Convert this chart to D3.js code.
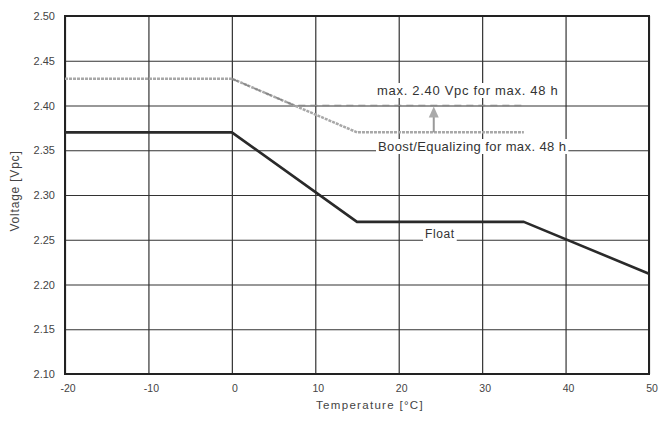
<!DOCTYPE html>
<html>
<head>
<meta charset="utf-8">
<script src="https://cdn.jsdelivr.net/npm/d3@7"></script>
<style>
  body { margin: 0; background: #fff; }
  svg { display: block; font-family: "Liberation Sans", Arial, sans-serif; }
</style>
</head>
<body>
<svg id="chart" width="669" height="421"></svg>
<script>
// DATA
// axis ticks
var tempTicks = [-20, -10, 0, 10, 20, 30, 40, 50];
var voltTicks = [2.10, 2.15, 2.20, 2.25, 2.30, 2.35, 2.40, 2.45, 2.50];

// Float charge curve
var floatTemps = [-20, 0, 15, 35, 50];
var floatVolts = [2.37, 2.37, 2.27, 2.27, 2.212];

// Boost / equalizing curve
var boostTemps = [-20, 0, 15, 35];
var boostVolts = [2.43, 2.43, 2.37, 2.37];

// max 2.40 Vpc limit
var maxTemps = [0, 7.5, 35];
var maxVolts = [2.43, 2.40, 2.40];

// arrow between boost and limit
var arrowTemp = 24.2;
var arrowVolts = [2.37, 2.40];

var svg = d3.select("#chart");

var x = d3.scaleLinear().domain([-20, 50]).range([65, 649]);
var y = d3.scaleLinear().domain([2.10, 2.50]).range([374, 16]);

var gridColor = "#333",
    textColor = "#444";

// grid lines
svg.append("g")
    .attr("transform", "translate(0,374)")
    .call(d3.axisBottom(x).tickValues(tempTicks).tickSize(-358).tickFormat(""))
    .call(function(g) { g.select(".domain").remove(); })
    .selectAll("line").attr("stroke", gridColor).attr("stroke-width", 1.2);

svg.append("g")
    .attr("transform", "translate(65,0)")
    .call(d3.axisLeft(y).tickValues(voltTicks).tickSize(-584).tickFormat(""))
    .call(function(g) { g.select(".domain").remove(); })
    .selectAll("line").attr("stroke", gridColor).attr("stroke-width", 1.2);

// frame
svg.append("rect")
    .attr("x", x(-20)).attr("y", y(2.50))
    .attr("width", x(50) - x(-20)).attr("height", y(2.10) - y(2.50))
    .attr("fill", "none").attr("stroke", "#222").attr("stroke-width", 2);

// tick labels
svg.append("g").selectAll("text")
    .data(voltTicks)
    .enter().append("text")
    .attr("x", 55)
    .attr("y", function(d) { return y(d) + 4; })
    .attr("text-anchor", "end")
    .style("font-size", "11px")
    .attr("fill", textColor)
    .text(function(d) { return d3.format(".2f")(d); });

svg.append("g").selectAll("text")
    .data(tempTicks)
    .enter().append("text")
    .attr("x", function(d) { return x(d) + 3; })
    .attr("y", 392)
    .attr("text-anchor", "middle")
    .style("font-size", "10.5px")
    .attr("fill", textColor)
    .text(function(d) { return d; });

// axis titles
svg.append("text")
    .attr("x", 370).attr("y", 409)
    .attr("text-anchor", "middle")
    .style("font-size", "11.5px")
    .style("letter-spacing", "1.3px")
    .attr("fill", textColor)
    .text("Temperature [°C]");

svg.append("text")
    .attr("transform", "translate(19,191) rotate(-90)")
    .attr("text-anchor", "middle")
    .style("font-size", "12px")
    .style("letter-spacing", "0.8px")
    .attr("fill", textColor)
    .text("Voltage [Vpc]");

var line = d3.line()
    .x(function(d) { return x(d[0]); })
    .y(function(d) { return y(d[1]); });

function pairs(ts, vs) {
    return ts.map(function(t, i) { return [t, vs[i]]; });
}

// label with white background
function label(txt, lx, ly, size, spacing) {
    var t = svg.append("text")
        .attr("x", lx).attr("y", ly)
        .style("font-size", size + "px")
        .style("letter-spacing", spacing + "px")
        .attr("fill", "#333")
        .text(txt);
    var b = t.node().getBBox();
    svg.insert("rect", function() { return t.node(); })
        .attr("x", b.x - 2).attr("y", b.y)
        .attr("width", b.width + 4).attr("height", b.height)
        .attr("fill", "#fff");
}

label("max. 2.40 Vpc for max. 48 h", 377, 95, 13, 0.7);
label("Boost/Equalizing for max. 48 h", 378, 151, 13, 0.4);
label("Float", 425, 238, 12, 0.6);

// boost line
svg.append("path")
    .attr("d", line(pairs(boostTemps, boostVolts)))
    .attr("fill", "none")
    .attr("stroke", "#a8a8a8")
    .attr("stroke-width", 2.5)
    .attr("stroke-dasharray", "3,1");

// max limit line
svg.append("path")
    .attr("d", line(pairs(maxTemps, maxVolts)))
    .attr("fill", "none")
    .attr("stroke", "#888")
    .attr("stroke-width", 1.6)
    .attr("stroke-dasharray", "7,5");

// float line
svg.append("path")
    .attr("d", line(pairs(floatTemps, floatVolts)))
    .attr("fill", "none")
    .attr("stroke", "#2a2a2a")
    .attr("stroke-width", 2.6)
    .attr("stroke-linejoin", "round");

// arrow
var ax = x(arrowTemp),
    ay0 = y(arrowVolts[0]),
    ay1 = y(arrowVolts[1]);
svg.append("line")
    .attr("x1", ax).attr("x2", ax)
    .attr("y1", ay0).attr("y2", ay1 + 8)
    .attr("stroke", "#999").attr("stroke-width", 2);
svg.append("path")
    .attr("d", "M" + ax + "," + (ay1 + 1) + "L" + (ax - 5) + "," + (ay1 + 12) + "L" + (ax + 5) + "," + (ay1 + 12) + "Z")
    .attr("fill", "#aaa");
</script>
</body>
</html>
